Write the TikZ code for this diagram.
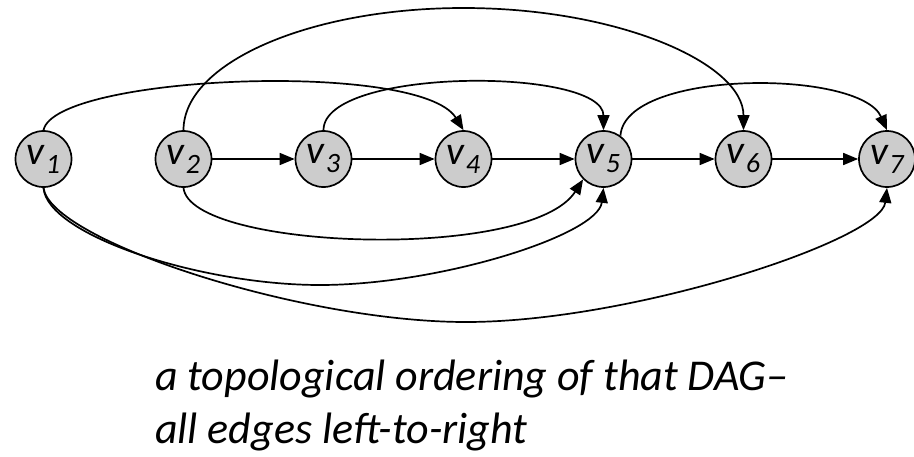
\documentclass[tikz,border=0pt]{standalone}
\usepackage{fontspec}
\setmainfont{Carlito}
\usetikzlibrary{arrows.meta}
\definecolor{nodegray}{RGB}{204,204,204}
\newcommand\vlab[1]{v\kern1pt\raisebox{-9pt}{\fontsize{28}{28}\selectfont #1}}
\begin{document}
\begin{tikzpicture}[x=1pt,y=-1pt,
  vert/.style={circle,draw,line width=1.7pt,fill=nodegray,minimum size=56pt,inner sep=0pt,
    font=\fontsize{40}{40}\selectfont\itshape},
  edge/.style={line width=1.7pt,-{Triangle[length=15pt,width=12pt]}},
  captext/.style={anchor=base west,inner sep=0pt,font=\fontsize{44}{44}\selectfont\itshape}]
\useasboundingbox (0,0) rectangle (914,456);
\node[vert] (v1) at (43.5,159) {\vlab{1}};
\node[vert] (v2) at (183.5,159) {\vlab{2}};
\node[vert] (v3) at (323.5,159) {\vlab{3}};
\node[vert] (v4) at (463.5,159) {\vlab{4}};
\node[vert] (v5) at (603.5,159) {\vlab{5}};
\node[vert] (v6) at (743.5,159) {\vlab{6}};
\node[vert] (v7) at (887,159) {\vlab{7}};
\draw[edge] (v2) -- (v3);
\draw[edge] (v3) -- (v4);
\draw[edge] (v4) -- (v5);
\draw[edge] (v5) -- (v6);
\draw[edge] (v6) -- (v7);
\draw[edge] (v1.north) .. controls (55,75) and (420,60) .. (v4.north);
\draw[edge] (v2.north) .. controls (183.5,63) and (309,8) .. (463.5,8) .. controls (618,8) and (743.5,63) .. (v6.north);
\draw[edge] (v3.north) .. controls (323.5,67) and (603.5,67) .. (v5.north);
\draw[edge] (v5.54) .. controls (625,69) and (860,69) .. (v7.north);
\draw[edge] (v2.south) .. controls (190,250) and (530,262) .. (v5.-135);
\draw[edge] (v1.south) .. controls (47,235) and (200,285) .. (320,285) .. controls (440,285) and (598,235) .. (v5.south);
\draw[edge] (v1.south) .. controls (50,240) and (300,322) .. (466,322) .. controls (632,322) and (881,240) .. (v7.south);
\node[captext] (cap1) at (155,390) {a topological ordering of that DAG–};
\node[captext] (cap2) at (155,443) {all edges left-to-right};
\end{tikzpicture}
\end{document}
